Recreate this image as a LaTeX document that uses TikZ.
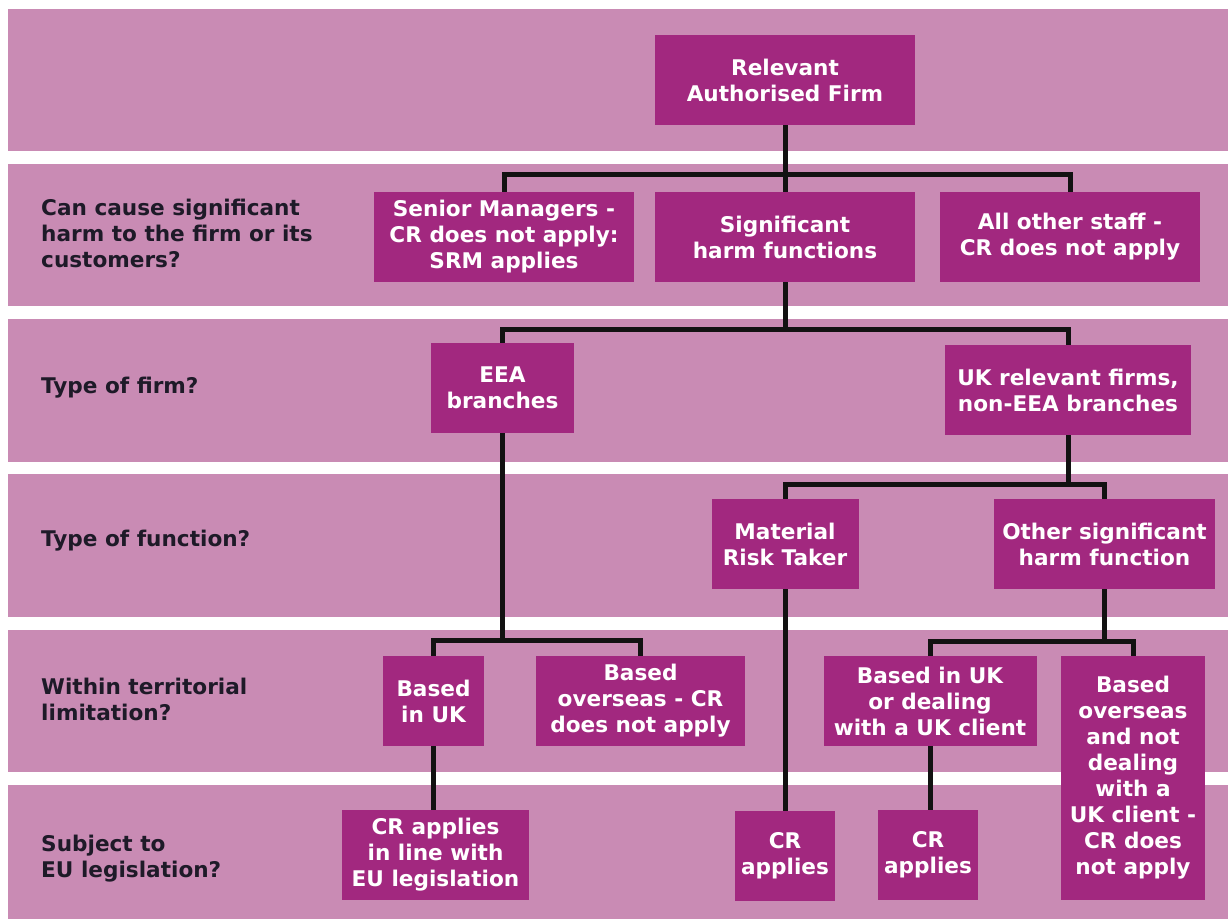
\documentclass[tikz,border=0pt]{standalone}
\usepackage{fontspec}
\setmainfont{DejaVu Sans}
\definecolor{bandc}{HTML}{C98BB4}
\definecolor{boxc}{HTML}{A2287F}
\definecolor{labc}{HTML}{1E1A28}
\definecolor{linec}{HTML}{121212}
\tikzset{
  box/.style={fill=boxc, text=white, align=center, inner sep=0pt,
    font=\bfseries\fontsize{21.6}{26}\selectfont},
  lab/.style={text=labc, align=left, anchor=west, inner sep=0pt,
    font=\bfseries\fontsize{21.6}{26}\selectfont},
  conn/.style={draw=linec, line width=5pt, line join=miter},
  band/.style={fill=bandc, draw=none}
}
\begin{document}
\begin{tikzpicture}[x=1pt, y=-1pt]
\useasboundingbox (0,0) rectangle (1228,919);
\fill[white] (0,0) rectangle (1228,919);
% bands
\fill[band] (8,9) rectangle (1228,151);
\fill[band] (8,164) rectangle (1228,306);
\fill[band] (8,319) rectangle (1228,462);
\fill[band] (8,474) rectangle (1228,617);
\fill[band] (8,630) rectangle (1228,772);
\fill[band] (8,785) rectangle (1228,919);
% labels
\node[lab] (lab1) at (41,233) {Can cause significant\\harm to the firm or its\\customers?};
\node[lab] (lab2) at (41,388) {Type of firm?};
\node[lab] (lab3) at (41,541) {Type of function?};
\node[lab] (lab4) at (41,699) {Within territorial\\limitation?};
\node[lab] (lab5) at (41,859) {Subject to\\EU legislation?};
% boxes
\node[box, minimum width=260pt, minimum height=90pt] (root) at (785,80) {Relevant\\Authorised Firm};
\node[box, minimum width=260pt, minimum height=90pt] (sm) at (504,237) {Senior Managers -\\CR does not apply:\\SRM applies};
\node[box, minimum width=260pt, minimum height=90pt] (shf) at (785,237) {Significant\\harm functions};
\node[box, minimum width=260pt, minimum height=90pt] (oth) at (1070,237) {All other staff -\\CR does not apply};
\node[box, minimum width=143pt, minimum height=90pt] (eea) at (502.5,388) {EEA\\branches};
\node[box, minimum width=246pt, minimum height=90pt] (ukr) at (1068,390) {UK relevant firms,\\non-EEA branches};
\node[box, minimum width=147pt, minimum height=90pt] (mrt) at (785,544) {Material\\Risk Taker};
\node[box, minimum width=221pt, minimum height=90pt] (osh) at (1104.5,544) {Other significant\\harm function};
\node[box, minimum width=101pt, minimum height=90pt] (buk) at (433.5,701) {Based\\in UK};
\node[box, minimum width=209pt, minimum height=90pt] (bov) at (640.5,701) {Based\\overseas - CR\\does not apply};
\node[box, minimum width=213pt, minimum height=90pt] (bukd) at (930,701) {Based in UK\\or dealing\\with a UK client};
\node[box, minimum width=144pt, minimum height=244pt] (bovn) at (1133,778) {Based\\overseas\\and not\\dealing\\with a\\UK client -\\CR does\\not apply};
\node[box, minimum width=187pt, minimum height=90pt] (creu) at (435.5,855) {CR applies\\in line with\\EU legislation};
\node[box, minimum width=100pt, minimum height=90pt] (cr1) at (785,856) {CR\\applies};
\node[box, minimum width=100pt, minimum height=90pt] (cr2) at (928,855) {CR\\applies};
% junctions
\coordinate (j1) at (785,174);
\coordinate (j2) at (785,329);
\coordinate (j3) at (1068,484);
\coordinate (j4) at (502.5,640);
\coordinate (j5) at (1104.5,641);
% connectors
\draw[conn] (root.south) -- (j1);
\draw[conn] (sm.north) |- (j1) -| (oth.north);
\draw[conn] (j1) -- (shf.north);
\draw[conn] (shf.south) -- (j2);
\draw[conn] (eea.north) |- (j2) -| (ukr.north);
\draw[conn] (ukr.south) -- (j3);
\draw[conn] (mrt.north) |- (j3) -| (osh.north);
\draw[conn] (eea.south) -- (j4);
\draw[conn] (buk.north) |- (j4) -| (bov.north);
\draw[conn] (osh.south) -- (j5);
\draw[conn] (bukd.north) |- (j5) -| (bovn.north);
\draw[conn] (buk.south) -- (buk.south |- creu.north);
\draw[conn] (mrt.south) -- (cr1.north);
\draw[conn] (bukd.south) -- (bukd.south |- cr2.north);
\end{tikzpicture}
\end{document}
